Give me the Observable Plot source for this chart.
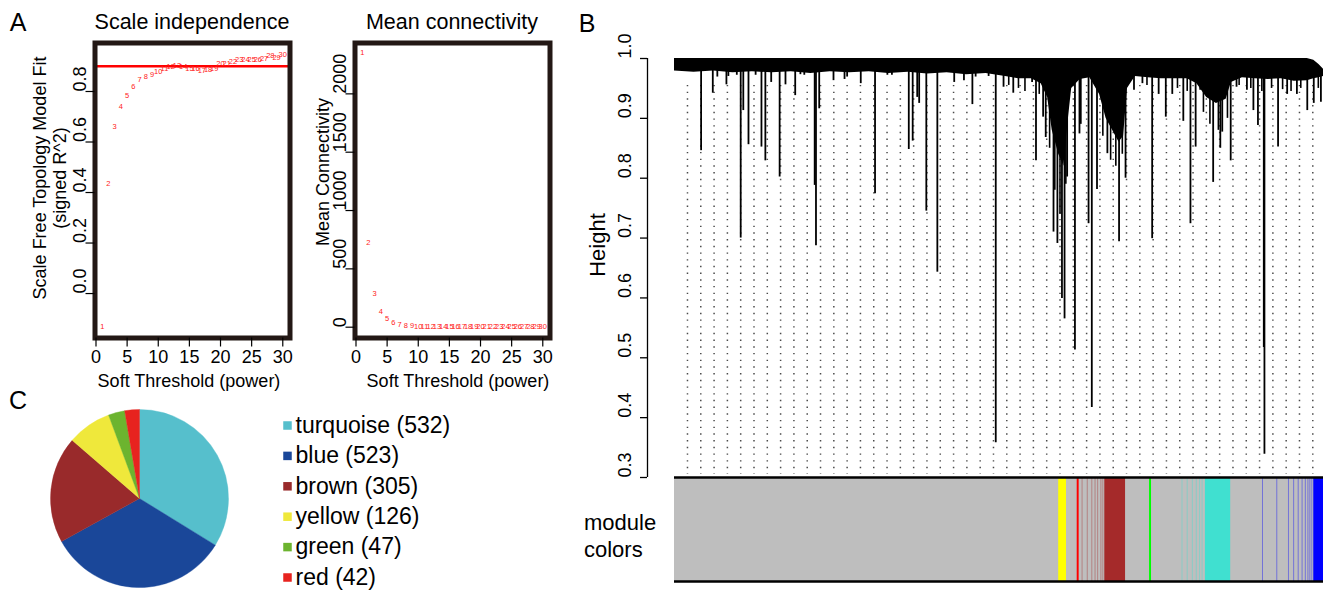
<!DOCTYPE html>
<html><head><meta charset="utf-8">
<script src="https://cdn.jsdelivr.net/npm/d3@7"></script>
<script src="https://cdn.jsdelivr.net/npm/@observablehq/plot@0.6"></script>
<style>
body{margin:0;background:#fff;}
#fig{position:relative;width:1323px;height:590px;overflow:hidden;font-family:"Liberation Sans",Arial,Helvetica,sans-serif;color:#000;background:#fff;}
.t{position:absolute;white-space:nowrap;transform:translate(-50%,-50%);line-height:1;}
.r{transform:translate(-50%,-50%) rotate(-90deg);}
</style></head><body><div id="fig"></div>
<script>
// ---------------- DATA ----------------
const powers = [1,2,3,4,5,6,7,8,9,10,11,12,13,14,15,16,17,18,19,20,21,22,23,24,25,26,27,28,29,30];
const scaleFitR2 = [-0.13,0.437,0.663,0.742,0.783,0.82,0.846,0.86,0.868,0.879,0.891,0.899,0.901,0.899,0.892,0.891,0.884,0.888,0.889,0.912,0.912,0.917,0.928,0.928,0.925,0.926,0.932,0.943,0.934,0.947];
const meanConnectivity = [2350,723,291,137,72,43,25,16,10,7,6,5,4,3.5,3,2.7,2.4,2.2,2,1.8,1.7,1.6,1.5,1.4,1.3,1.2,1.2,1.1,1.1,1];
const r2Cutoff = 0.9;
const powerTicks = [0,5,10,15,20,25,30];
const r2Ticks = [0,0.2,0.4,0.6,0.8];
const connTicks = [0,500,1000,1500,2000];

// dendrogram (leaf order scaled 0..1000)
const heightTicks = [0.3,0.4,0.5,0.6,0.7,0.8,0.9,1.0];
const bandLeaf   = [0,30,60,90,120,150,180,210,240,270,300,330,360,390,420,450,480,510,530,550,565,575,582,592,600,606,612,625,640,655,665,675,685,692,698,710,730,750,770,790,805,820,835,850,858,875,895,915,935,955,975,985,993,1000];
const bandTop    = [1,1,1,1,1,1,1,1,1,1,1,1,1,1,1,1,1,1,1,1,1,1,1,1,1,1,1,1,1,1,1,1,1,1,1,1,1,1,1,1,1,1,1,1,1,1,1,1,1,1,1,0.997,0.99,0.982];
const bandBottom = [0.979,0.977,0.979,0.976,0.978,0.976,0.978,0.975,0.978,0.976,0.978,0.975,0.977,0.974,0.976,0.973,0.975,0.97,0.966,0.966,0.958,0.935,0.88,0.84,0.82,0.89,0.95,0.965,0.968,0.94,0.9,0.88,0.86,0.87,0.95,0.97,0.968,0.966,0.966,0.966,0.958,0.935,0.925,0.932,0.96,0.968,0.966,0.965,0.966,0.962,0.963,0.966,0.968,0.97];
const dropLeaf   = [41,59,66,80,83,96,102,106,114,125,134,140,149,162,171,186,194,200,216,218,223,245,262,266,287,309,328,335,361,367,374,377,388,405,431,446,459,464,484,495,507,522,551,557,568,572,584,590,597,601,605,617,624,626,638,643,651,667,685,695,708,721,736,746,757,767,784,795,803,810,830,841,844,857,866,882,892,899,908,909,930,944,959,975,985,996];
const dropHeight = [0.846,0.942,0.969,0.956,0.97,0.972,0.70,0.913,0.856,0.972,0.852,0.829,0.96,0.802,0.956,0.938,0.973,0.972,0.788,0.687,0.916,0.963,0.965,0.969,0.958,0.774,0.972,0.972,0.848,0.862,0.935,0.925,0.745,0.643,0.96,0.963,0.923,0.969,0.97,0.358,0.952,0.942,0.96,0.829,0.902,0.868,0.71,0.691,0.599,0.565,0.802,0.513,0.874,0.89,0.724,0.417,0.781,0.841,0.694,0.80,0.947,0.958,0.699,0.94,0.902,0.94,0.895,0.724,0.852,0.947,0.793,0.85,0.877,0.829,0.952,0.947,0.913,0.888,0.517,0.339,0.852,0.94,0.94,0.913,0.925,0.927];
const fineDropLeaf   = [515,530,540,562,578,586,594,603,660,672,680,690,815,825,838,852,870,888,905,920,937,950,965,992,728,775,790];
const fineDropHeight = [0.955,0.95,0.945,0.94,0.85,0.78,0.74,0.79,0.87,0.83,0.82,0.84,0.91,0.89,0.88,0.9,0.955,0.95,0.945,0.95,0.948,0.945,0.95,0.95,0.955,0.95,0.945];
const guideLeaves = d3.range(20, 1000, 20.5);

// module colour bar
const blockColor = ["grey","yellow","red","brown","green","turquoise","blue"];
const blockStart = [0,592,620.5,663,732,818,985];
const blockEnd   = [1000,604,623.5,695,735,857,1000];
const stripeColor = ["brown","brown","brown","brown","brown","brown","brown","turquoise","turquoise","turquoise","turquoise","turquoise","turquoise","blue","blue","blue","blue","blue","blue","blue","blue","blue","blue"];
const stripeLeaf  = [628,636,643,648,652,657,660,782,790,798,804,809,813,906,928,946,954,961,967,972,976,979,982];
const rColors = {grey:"#BEBEBE", yellow:"#FFFF00", red:"#FF0000", brown:"#A52A2A", green:"#00FF00", turquoise:"#40E0D0", blue:"#0000FF"};

// pie
const moduleNames = ["turquoise","blue","brown","yellow","green","red"];
const moduleCounts = [532,523,305,126,47,42];
const pieColors = ["#56bfcc","#1a4799","#992a2b","#efe83b","#6cb42f","#e7231f"];

// ---------------- HELPERS ----------------
const fig = document.getElementById("fig");
const FONT = '"Liberation Sans", Arial, Helvetica, sans-serif';
const baseStyle = {fontFamily: FONT, fontSize: "18px", color: "#000", background: "transparent", overflow: "visible"};
function place(el, left, top) {
  el.style.position = "absolute"; el.style.left = left + "px"; el.style.top = top + "px";
  el.style.maxWidth = "none"; fig.appendChild(el);
}
function label(text, x, y, size, rotate) {
  const d = document.createElement("div");
  d.className = "t" + (rotate ? " r" : "");
  d.textContent = text; d.style.left = x + "px"; d.style.top = y + "px"; d.style.fontSize = size + "px";
  fig.appendChild(d);
}
const FRAME = "#231815";

// ---------------- PANEL A: scale independence ----------------
const fitData = powers.map((p, i) => ({power: p, r2: scaleFitR2[i]}));
const a1 = Plot.plot({
  width: 295, height: 395, marginLeft: 94.5, marginRight: 5.5, marginTop: 42.5, marginBottom: 57.5,
  x: {domain: [-0.16, 31.16]}, y: {domain: [-0.176, 0.992]},
  style: baseStyle,
  marks: [
    Plot.ruleY([r2Cutoff], {stroke: "red", strokeWidth: 2.5}),
    Plot.text(fitData, {x: "power", y: "r2", text: d => String(d.power), fill: "#ff1a1a", fontSize: 7.5}),
    Plot.frame({stroke: FRAME, strokeWidth: 5}),
    Plot.axisX({ticks: powerTicks, tickSize: 9, tickPadding: 3, fontSize: 18, label: null, strokeWidth: 1.2}),
    Plot.axisY({ticks: r2Ticks, tickSize: 9, tickFormat: () => "", label: null, strokeWidth: 1.2}),
    Plot.text(r2Ticks, {y: d => d, frameAnchor: "left", dx: -14.5, rotate: -90, text: d => d.toFixed(1), fontSize: 18})
  ]
});
place(a1, 0, 0);

// ---------------- PANEL A: mean connectivity ----------------
const connData = powers.map((p, i) => ({power: p, k: meanConnectivity[i]}));
const a2 = Plot.plot({
  width: 260, height: 395, marginLeft: 54.5, marginRight: 10.5, marginTop: 42.5, marginBottom: 57.5,
  x: {domain: [-0.16, 31.16]}, y: {domain: [-92.6, 2436]},
  style: baseStyle,
  marks: [
    Plot.text(connData, {x: "power", y: "k", text: d => String(d.power), fill: "#ff1a1a", fontSize: 7.5}),
    Plot.frame({stroke: FRAME, strokeWidth: 5}),
    Plot.axisX({ticks: powerTicks, tickSize: 9, tickPadding: 3, fontSize: 18, label: null, strokeWidth: 1.2}),
    Plot.axisY({ticks: connTicks, tickSize: 9, tickFormat: () => "", label: null, strokeWidth: 1.2}),
    Plot.text(connTicks, {y: d => d, frameAnchor: "left", dx: -14.5, rotate: -90, text: d => String(d), fontSize: 18})
  ]
});
place(a2, 300, 0);

// ---------------- PANEL B: dendrogram ----------------
const band = bandLeaf.map((p, i) => ({p, top: bandTop[i], bottom: bandBottom[i]}));
const drops = dropLeaf.map((p, i) => ({p, h: dropHeight[i]}));
const fineDrops = fineDropLeaf.map((p, i) => ({p, h: fineDropHeight[i]}));
const xMin = -41.6;
const dendro = Plot.plot({
  width: 753, height: 480, marginLeft: 77, marginRight: 0, marginTop: 58, marginBottom: 3,
  x: {domain: [xMin, 1000], axis: null}, y: {domain: [0.3, 1.0]},
  style: baseStyle,
  marks: [
    Plot.ruleX(guideLeaves, {y1: 0.955, y2: 0.305, stroke: "#4a4a4a", strokeWidth: 1.5, strokeDasharray: "1.4,5.3"}),
    Plot.areaY(band, {x: "p", y1: "top", y2: "bottom", fill: "black", curve: "linear"}),
    Plot.ruleX(fineDrops, {x: "p", y1: 0.975, y2: "h", stroke: "black", strokeWidth: 1.6}),
    Plot.ruleX(drops, {x: "p", y1: 0.98, y2: "h", stroke: "black", strokeWidth: 1.8}),
    Plot.ruleX([xMin], {y1: 0.3, y2: 1.0, stroke: "black", strokeWidth: 1.3}),
    Plot.axisY({ticks: heightTicks, tickSize: 7, tickFormat: () => "", label: null, strokeWidth: 1.3}),
    Plot.text(heightTicks, {y: d => d, frameAnchor: "left", dx: -22, rotate: -90, text: d => d.toFixed(1), fontSize: 18})
  ]
});
place(dendro, 570, 0);

// module colours bar
const blocks = blockColor.map((c, i) => ({c: rColors[c], x1: blockStart[i], x2: blockEnd[i]}));
const stripes = stripeColor.map((c, i) => ({c: rColors[c], p: stripeLeaf[i]}));
const bar = Plot.plot({
  width: 753, height: 118, marginLeft: 104, marginRight: 0, marginTop: 7, marginBottom: 7,
  x: {domain: [0, 1000], axis: null}, y: {domain: [0, 1], axis: null},
  color: {type: "identity"},
  style: baseStyle,
  marks: [
    Plot.rect(blocks, {x1: "x1", x2: "x2", y1: 0, y2: 1, fill: "c"}),
    Plot.ruleX(stripes, {x: "p", y1: 0, y2: 1, stroke: "c", strokeWidth: 1, strokeOpacity: 0.4}),
    Plot.ruleY([0, 1], {stroke: "black", strokeWidth: 2.6})
  ]
});
place(bar, 570, 470);

// ---------------- PANEL C: pie ----------------
const moduleTable = moduleNames.map((n, i) => ({name: n, count: moduleCounts[i], label: `${n} (${moduleCounts[i]})`, row: i}));
const moduleLabels = moduleTable.map(d => d.label);
const pieArcs = d3.pie().sort(null).value(d => d.count)(moduleTable);
const pieCX = 139.5, pieCY = 103.5, pieR = 89;
function pieMark(index, scales) {
  const color = (scales && scales.color) ? scales.color : (l => pieColors[moduleLabels.indexOf(l)]);
  const sx = (scales && scales.x) ? scales.x : (v => v);
  const sy = (scales && scales.y) ? scales.y : (v => v);
  const cx = sx(pieCX), cy = sy(pieCY), r = sx(pieCX + pieR) - cx;
  const arc = d3.arc().innerRadius(0).outerRadius(r);
  const g = d3.create("svg:g").attr("transform", `translate(${cx},${cy})`);
  g.selectAll("path").data(pieArcs).join("path")
    .attr("d", arc).attr("fill", d => color(d.data.label))
    .attr("stroke", d => color(d.data.label)).attr("stroke-width", 0.4);
  return g.node();
}
const pie = Plot.plot({
  width: 480, height: 195, margin: 0,
  x: {domain: [0, 480], range: [0, 480], axis: null}, y: {domain: [0, 195], range: [0, 195], axis: null},
  color: {type: "ordinal", domain: moduleLabels, range: pieColors},
  style: baseStyle,
  marks: [
    pieMark,
    Plot.dot(moduleTable, {x: 287, y: d => 30 + d.row * 30.4, symbol: "square", r: 4.8, fill: "label"}),
    Plot.text(moduleTable, {x: 295, y: d => 30 + d.row * 30.4, text: "label", textAnchor: "start", fontSize: 23, fill: "black"})
  ]
});
place(pie, 0, 395);

// ---------------- TEXT ----------------
label("A", 18, 22, 25);
label("B", 587, 23, 25);
label("C", 18, 400, 25);
label("Scale independence", 192, 23, 21.5);
label("Mean connectivity", 452, 23, 21.5);
label("Scale Free Topology Model Fit", 40, 177.5, 18, true);
label("(signed R^2)", 60, 177.5, 18, true);
label("Mean Connectivity", 323, 172, 18, true);
label("Soft Threshold (power)", 189, 381, 18);
label("Soft Threshold (power)", 458, 381, 18);
label("Height", 598, 245, 22, true);
const mc = document.createElement("div");
mc.style.cssText = "position:absolute;left:584px;top:509px;font-size:22px;line-height:27px;";
mc.innerHTML = "module<br>colors";
fig.appendChild(mc);
</script></body></html>
